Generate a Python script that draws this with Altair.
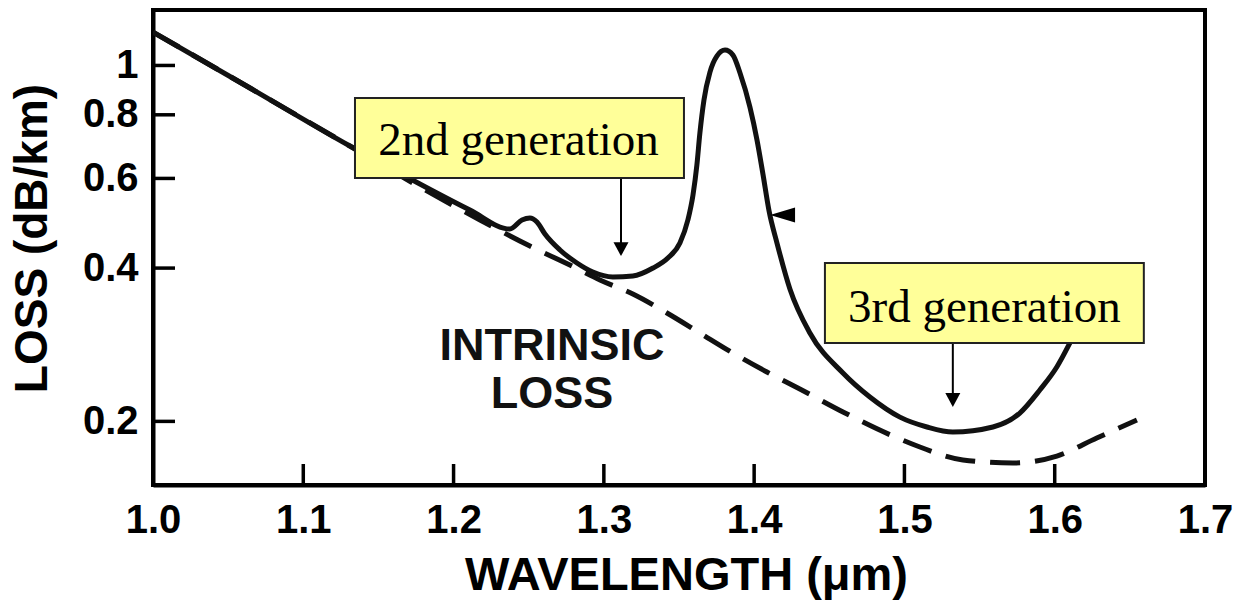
import altair as alt
import pandas as pd

# ---- data ----
x_tick_values = [1.0, 1.1, 1.2, 1.3, 1.4, 1.5, 1.6, 1.7]
y_tick_values = [0.2, 0.4, 0.6, 0.8, 1.0]

# intrinsic loss (dashed)
lam_intrinsic = [1.000, 1.0645, 1.131, 1.1776, 1.2176, 1.2508, 1.2774, 1.2974, 1.3193,
                 1.3420, 1.3639, 1.3859, 1.4085, 1.4304, 1.4591, 1.4923, 1.5103, 1.5389,
                 1.5722, 1.6014, 1.6280, 1.6547]
loss_intrinsic = [1.163, 0.903, 0.6946, 0.5771, 0.4971, 0.4418, 0.4056, 0.3790, 0.3557,
                  0.3265, 0.2983, 0.2724, 0.2500, 0.2315, 0.2087, 0.1872, 0.1781, 0.1680,
                  0.1657, 0.1710, 0.1855, 0.2012]

# measured fibre loss (solid)
lam_fibre = [1.000, 1.0645, 1.1311, 1.1776, 1.2109, 1.2375, 1.2455, 1.2508, 1.2555, 1.2608,
             1.2708, 1.2821, 1.2927, 1.3060, 1.3193, 1.3327, 1.3426, 1.3506, 1.3559, 1.3593,
             1.3619, 1.3639, 1.3666, 1.3706, 1.3752, 1.3806, 1.3859, 1.3906, 1.3972, 1.4019,
             1.4059, 1.4099, 1.4152, 1.4238, 1.4371, 1.4591, 1.4770, 1.4970, 1.5150, 1.5322,
             1.5589, 1.5768, 1.5901, 1.6014, 1.6101, 1.6234]
loss_fibre = [1.163, 0.903, 0.6946, 0.5849, 0.5200, 0.4773, 0.4971, 0.5017, 0.4926, 0.4667,
              0.4341, 0.4093, 0.3929, 0.3842, 0.3859, 0.4001, 0.4185, 0.4479, 0.4971, 0.5565,
              0.6373, 0.7366, 0.8552, 0.9705, 1.0435, 1.0720, 1.0481, 0.9663, 0.8284, 0.7139,
              0.6107, 0.5183, 0.4480, 0.3640, 0.2983, 0.2489, 0.2233, 0.2039, 0.1950, 0.1906,
              0.1950, 0.2077, 0.2305, 0.2557, 0.2851, 0.3463]

# annotations (data coordinates)
box_labels = ["2nd generation", "3rd generation"]
box_lam_left = [1.1344, 1.4471]
box_lam_right = [1.3533, 1.6593]
box_loss_top = [0.8630, 0.4093]
box_loss_bottom = [0.6010, 0.2851]
box_text_lam = [1.2432, 1.5532]
box_text_loss = [0.6669, 0.3134]
arrow_lam = [1.3114, 1.5322]
arrow_loss_end = [0.4454, 0.2253]
arrow_head_loss = [0.4358, 0.2203]

intrinsic_lines = ["INTRINSIC", "LOSS"]
intrinsic_lam = [1.2655, 1.2655]
intrinsic_loss = [0.2640, 0.2125]

pointer_lam = [1.4189]
pointer_loss = [0.5085]

# ---- frames ----
df_intr = pd.DataFrame({"lam": lam_intrinsic, "loss": loss_intrinsic})
df_fib = pd.DataFrame({"lam": lam_fibre, "loss": loss_fibre})
df_box = pd.DataFrame({"lam": box_lam_left, "lam2": box_lam_right,
                       "loss": box_loss_top, "loss2": box_loss_bottom})
df_boxtext = pd.DataFrame({"lam": box_text_lam, "loss": box_text_loss, "label": box_labels})
df_arrow = pd.DataFrame({"lam": arrow_lam, "loss": box_loss_bottom, "loss2": arrow_loss_end})
df_head = pd.DataFrame({"lam": arrow_lam, "loss": arrow_head_loss})
df_intrtext = pd.DataFrame({"lam": intrinsic_lam, "loss": intrinsic_loss, "label": intrinsic_lines})
df_pointer = pd.DataFrame({"lam": pointer_lam, "loss": pointer_loss})
df_xt = pd.DataFrame({"lam": x_tick_values[1:-1]})
df_yt = pd.DataFrame({"loss": y_tick_values})

W, H = 1052, 475
AXFONT = "Liberation Sans"

xscale = alt.Scale(domain=[1.0, 1.7], nice=False, zero=False)
yscale = alt.Scale(type="log", domain=[0.15, 1.285], nice=False)

xaxis = alt.Axis(values=x_tick_values, format=".1f", ticks=False, grid=False,
                 labelFont=AXFONT, labelFontSize=40, labelFontWeight="bold", labelColor="black",
                 labelFlush=False, labelOverlap=False, labelPadding=47, labelBaseline="alphabetic",
                 domainColor="black", domainWidth=4,
                 title="WAVELENGTH (μm)", titleFont=AXFONT, titleFontSize=47,
                 titleFontWeight="bold", titleColor="black", titleX=533, titleY=104,
                 titleBaseline="alphabetic", titleAlign="center")
yaxis = alt.Axis(values=y_tick_values, format=".1~f", ticks=False, grid=False,
                 labelFont=AXFONT, labelFontSize=40, labelFontWeight="bold", labelColor="black",
                 labelFlush=False, labelOverlap=False, labelPadding=15, labelBaseline="middle",
                 domainColor="black", domainWidth=4,
                 title="LOSS (dB/km)", titleFont=AXFONT, titleFontSize=46,
                 titleFontWeight="bold", titleColor="black", titleX=-107, titleY=228,
                 titleBaseline="alphabetic", titleAlign="center", titleAngle=270)


def X(field="lam"):
    return alt.X(field, type="quantitative", scale=xscale, axis=xaxis)


def Y(field="loss"):
    return alt.Y(field, type="quantitative", scale=yscale, axis=yaxis)


dashed = alt.Chart(df_intr).mark_line(
    color="#111111", strokeWidth=5, strokeDash=[30, 15], interpolate="monotone", clip=True
).encode(x=X(), y=Y())

solid = alt.Chart(df_fib).mark_line(
    color="#111111", strokeWidth=5, interpolate="monotone", clip=True
).encode(x=X(), y=Y())

xticks = alt.Chart(df_xt).mark_rule(color="black", strokeWidth=3.5).encode(
    x=X(), y=alt.value(H), y2=alt.value(H - 21)
)
yticks = alt.Chart(df_yt).mark_rule(color="black", strokeWidth=3.5).encode(
    y=Y(), x=alt.value(0), x2=alt.value(22)
)

intr_text = alt.Chart(df_intrtext).mark_text(
    font=AXFONT, fontSize=45, fontWeight="bold", color="#111111",
    align="center", baseline="alphabetic"
).encode(x=X(), y=Y(), text="label:N")

pointer = alt.Chart(df_pointer).mark_point(
    shape="M1,-0.6L1,0.6L-1,0Z", filled=True, size=625, color="black", opacity=1, strokeWidth=0
).encode(x=X(), y=Y())

shafts = alt.Chart(df_arrow).mark_rule(color="black", strokeWidth=2).encode(
    x=X(), y=Y(), y2=alt.Y2("loss2")
)
heads = alt.Chart(df_head).mark_point(
    shape="M-1,-0.93L1,-0.93L0,0.93Z", filled=True, size=225, color="black", opacity=1, strokeWidth=0
).encode(x=X(), y=Y())

boxes = alt.Chart(df_box).mark_rect(fill="#ffff99", stroke="#222222", strokeWidth=2).encode(
    x=X(), x2=alt.X2("lam2"), y=Y(), y2=alt.Y2("loss2")
)
box_text = alt.Chart(df_boxtext).mark_text(
    font="Liberation Serif", fontSize=47, color="black", align="center", baseline="alphabetic"
).encode(x=X(), y=Y(), text="label:N")

chart = alt.layer(
    dashed, solid, xticks, yticks, intr_text, pointer, shafts, heads, boxes, box_text
).properties(
    width=W, height=H,
    autosize=alt.AutoSizeParams(type="none"),
    padding={"left": 153, "top": 10, "right": 31, "bottom": 120},
    background="white",
).configure_view(stroke="black", strokeWidth=4)

chart.save("out.html", embed_options={"renderer": "svg", "actions": False})
